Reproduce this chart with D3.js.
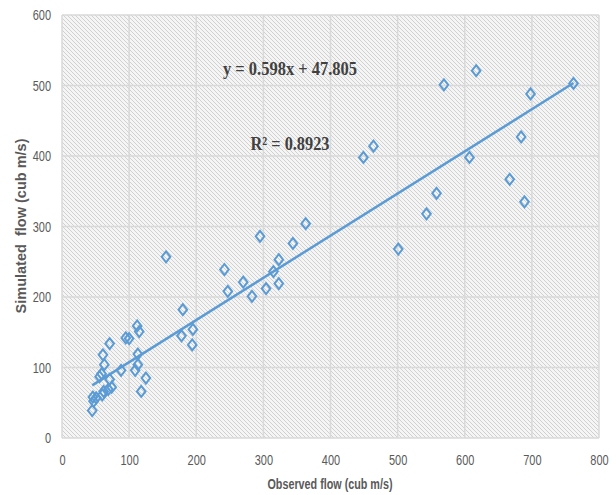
<!DOCTYPE html>
<html>
<head>
<meta charset="utf-8">
<script src="https://cdn.jsdelivr.net/npm/d3@7"></script>
<style>
  html, body { margin: 0; padding: 0; background: #ffffff; }
  svg { display: block; }
</style>
</head>
<body>
<svg id="chart" width="616" height="495"></svg>
<script>
// Observed vs. simulated flow (cub m/s)
const observed = [
  762, 617, 569, 698, 684, 607, 667, 689, 558, 543,
  501, 449, 464, 363, 344, 295, 323, 315, 323, 304,
  283, 270, 247, 242, 155, 180, 178, 195, 194, 112,
  115, 95, 100, 113, 113, 109, 125, 118, 88, 71,
  61, 63, 59, 56, 71, 74, 69, 62, 60, 51,
  46, 47, 45
];
const simulated = [
  503, 521, 501, 488, 427, 398, 367, 335, 347, 318,
  268, 398, 414, 304, 276, 286, 253, 236, 219, 212,
  201, 221, 208, 239, 257, 182, 145, 154, 132, 159,
  151, 142, 141, 119, 104, 96, 85, 66, 96, 134,
  118, 104, 91, 87, 83, 72, 69, 66, 61, 57,
  58, 52, 39
];
const xTicks = [0, 100, 200, 300, 400, 500, 600, 700, 800];
const yTicks = [0, 100, 200, 300, 400, 500, 600];
const slope = 0.598;
const intercept = 47.805;
const rSquared = "0.8923";

const svg = d3.select("#chart");
const x = d3.scaleLinear().domain([0, 800]).range([62, 599]);
const y = d3.scaleLinear().domain([0, 600]).range([438, 15]);

// hatched plot-area fill
const defs = svg.append("defs");
const pat = defs.append("pattern")
  .attr("id", "hatch")
  .attr("patternUnits", "userSpaceOnUse")
  .attr("width", 4).attr("height", 4);
pat.append("rect").attr("width", 4).attr("height", 4).attr("fill", "#f5f5f5");
pat.append("path")
  .attr("d", "M-1,-1 L5,5 M-1,3 L1,5 M3,-1 L5,1")
  .attr("stroke", "#d0d0d0").attr("stroke-width", 1);

svg.append("rect")
  .attr("x", x(0)).attr("y", y(600))
  .attr("width", x(800) - x(0)).attr("height", y(0) - y(600))
  .attr("fill", "url(#hatch)");

// gridlines
const grid = svg.append("g");
grid.selectAll("line.v").data(xTicks).join("line")
  .attr("class", "v")
  .attr("x1", d => x(d)).attr("x2", d => x(d))
  .attr("y1", y(0)).attr("y2", y(600))
  .attr("stroke", "#d9d9d9").attr("stroke-width", 1.5);
grid.selectAll("line.h").data(yTicks).join("line")
  .attr("class", "h")
  .attr("x1", x(0)).attr("x2", x(800))
  .attr("y1", d => y(d)).attr("y2", d => y(d))
  .attr("stroke", "#d9d9d9").attr("stroke-width", 1.5);

// axes (labels only), condensed digits
const sans = "'Liberation Sans', Arial, sans-serif";
const xAxis = svg.append("g")
  .attr("transform", `translate(0,${y(0)})`)
  .call(d3.axisBottom(x).tickValues(xTicks).tickSize(0).tickPadding(16));
const yAxis = svg.append("g")
  .attr("transform", `translate(${x(0)},0)`)
  .call(d3.axisLeft(y).tickValues(yTicks).tickSize(0).tickPadding(11));
[xAxis, yAxis].forEach(g => {
  g.select(".domain").remove();
  g.selectAll("text")
    .attr("fill", "#595959")
    .attr("textLength", d => String(d).length * 6.1)
    .attr("lengthAdjust", "spacingAndGlyphs")
    .style("font-family", sans)
    .style("font-size", "15px");
});

// trend line
const xMin = d3.min(observed), xMax = d3.max(observed);
svg.append("line")
  .attr("x1", x(xMin)).attr("y1", y(slope * xMin + intercept))
  .attr("x2", x(xMax)).attr("y2", y(slope * xMax + intercept))
  .attr("stroke", "#5b9bd5").attr("stroke-width", 2.5);

// diamond markers
const pts = observed.map((o, i) => [o, simulated[i]]);
svg.append("g").selectAll("path").data(pts).join("path")
  .attr("d", d => {
    const cx = x(d[0]), cy = y(d[1]);
    return `M${cx},${cy - 5.5} L${cx + 4.3},${cy} L${cx},${cy + 5.5} L${cx - 4.3},${cy} Z`;
  })
  .attr("fill", "none")
  .attr("stroke", "#5b9bd5").attr("stroke-width", 2);

// equation and R² labels
const serif = "'Liberation Serif', 'Times New Roman', serif";
svg.append("text")
  .attr("x", 290).attr("y", 75)
  .attr("text-anchor", "middle")
  .attr("textLength", 134).attr("lengthAdjust", "spacingAndGlyphs")
  .style("font-family", serif).style("font-size", "19px").style("font-weight", "bold")
  .attr("fill", "#404040")
  .text(`y = ${slope}x + ${intercept}`);
svg.append("text")
  .attr("x", 290).attr("y", 150)
  .attr("text-anchor", "middle")
  .attr("textLength", 79).attr("lengthAdjust", "spacingAndGlyphs")
  .style("font-family", serif).style("font-size", "19px").style("font-weight", "bold")
  .attr("fill", "#404040")
  .text(`R² = ${rSquared}`);

// axis titles
svg.append("text")
  .attr("x", 330).attr("y", 489)
  .attr("text-anchor", "middle")
  .attr("textLength", 125).attr("lengthAdjust", "spacingAndGlyphs")
  .style("font-family", sans).style("font-size", "14px").style("font-weight", "bold")
  .attr("fill", "#595959")
  .text("Observed flow (cub m/s)");
svg.append("text")
  .attr("transform", "translate(26,226) rotate(-90)")
  .attr("text-anchor", "middle")
  .attr("textLength", 175).attr("lengthAdjust", "spacingAndGlyphs")
  .style("font-family", sans).style("font-size", "14px").style("font-weight", "bold")
  .style("white-space", "pre")
  .attr("fill", "#595959")
  .text("Simulated  flow (cub m/s)");
</script>
</body>
</html>
